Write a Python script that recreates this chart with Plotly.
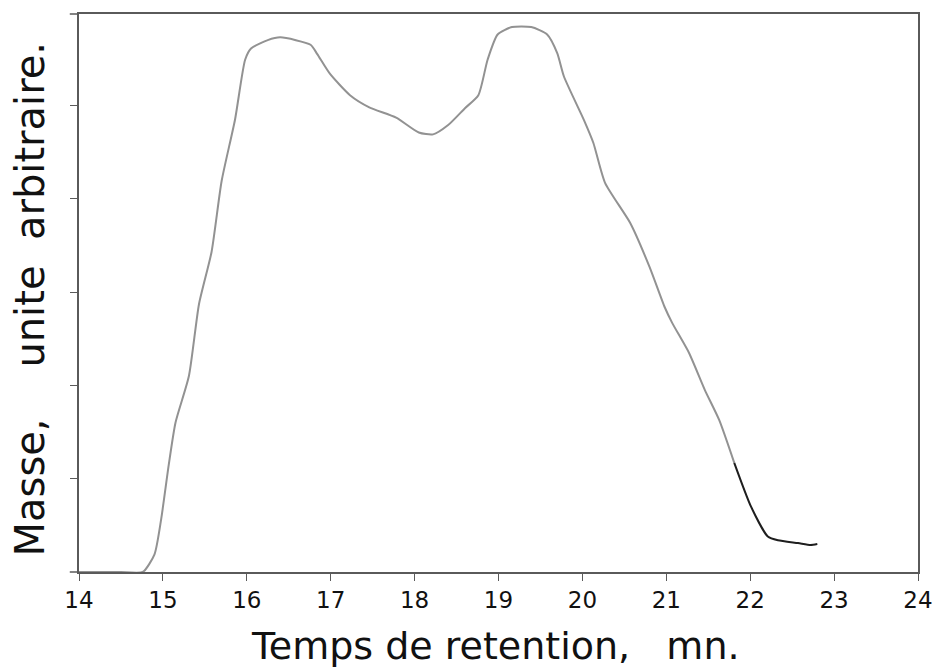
import plotly.graph_objects as go

# Retention time (min) and mass (arbitrary units)
temps = [14.0, 14.3, 14.5, 14.76, 14.90, 14.98, 15.07, 15.15, 15.31, 15.43, 15.58,
         15.70, 15.86, 15.98, 16.05, 16.25, 16.40, 16.76, 16.84, 16.99, 17.23,
         17.46, 17.78, 18.05, 18.22, 18.40, 18.60, 18.76, 18.87, 18.99, 19.16,
         19.39, 19.58, 19.70, 19.78, 20.02, 20.13, 20.27, 20.57, 20.80, 20.98,
         21.07, 21.27, 21.46, 21.63, 21.81, 22.01, 22.21, 22.33, 22.57, 22.72, 22.80]
masse = [0.0, 0.0, 0.0, 0.0, 0.19, 0.57, 1.15, 1.60, 2.10, 2.87, 3.43,
         4.19, 4.85, 5.49, 5.61, 5.70, 5.73, 5.65, 5.55, 5.34, 5.11,
         4.98, 4.87, 4.71, 4.69, 4.79, 4.97, 5.11, 5.49, 5.76, 5.84,
         5.84, 5.76, 5.56, 5.31, 4.84, 4.60, 4.17, 3.74, 3.27, 2.84,
         2.67, 2.35, 1.95, 1.63, 1.17, 0.70, 0.38, 0.34, 0.31, 0.29, 0.30]

x_ticks = [14, 15, 16, 17, 18, 19, 20, 21, 22, 23, 24]
y_ticks = [1, 2, 3, 4, 5]

NB = "\u00a0"
x_title = "Temps de retention," + NB * 3 + "mn."
y_title = "Masse," + NB * 4 + "unite" + NB * 2 + "arbitraire."

tail_start = 45  # darker tail of the trace

fig = go.Figure()
fig.add_trace(go.Scatter(x=temps[:tail_start + 1], y=masse[:tail_start + 1], mode="lines",
                         line=dict(color="#929292", width=2, shape="spline", smoothing=0.6),
                         showlegend=False))
fig.add_trace(go.Scatter(x=temps[tail_start:], y=masse[tail_start:], mode="lines",
                         line=dict(color="#1e1e1e", width=2, shape="spline", smoothing=0.6),
                         showlegend=False))

axis_col = "#5a5a5a"
fig.update_layout(
    width=945, height=670,
    margin=dict(l=79, r=17, t=14, b=98),
    paper_bgcolor="white", plot_bgcolor="white",
    font=dict(family="DejaVu Sans", color="black"),
    xaxis=dict(range=[14, 24], tickvals=x_ticks, ticktext=[str(v) for v in x_ticks],
               showgrid=False, zeroline=False, showline=True, linecolor=axis_col,
               linewidth=1.5, mirror=True, ticks="outside", ticklen=7,
               tickcolor=axis_col, tickwidth=1.2,
               tickfont=dict(family="DejaVu Sans", size=23, color="#111111")),
    yaxis=dict(range=[0, 5.98], tickvals=y_ticks, showticklabels=False,
               showgrid=False, zeroline=False, showline=True, linecolor=axis_col,
               linewidth=1.5, mirror=True, ticks="outside", ticklen=7,
               tickcolor=axis_col, tickwidth=1.2),
    annotations=[
        dict(text=x_title, xref="paper", yref="paper", x=0.497, y=-0.133,
             xanchor="center", yanchor="middle", showarrow=False,
             font=dict(family="DejaVu Sans", size=38, color="#111111")),
        dict(text=y_title, xref="paper", yref="paper", x=-0.058, y=0.489,
             xanchor="center", yanchor="middle", textangle=-90, showarrow=False,
             font=dict(family="DejaVu Sans", size=40, color="#111111")),
    ],
    shapes=[
        dict(type="line", xref="paper", yref="paper", x0=-0.011, x1=0, y0=0, y1=0,
             line=dict(color=axis_col, width=1.5)),
        dict(type="line", xref="paper", yref="paper", x0=-0.011, x1=0, y0=1, y1=1,
             line=dict(color=axis_col, width=1.5)),
    ],
)

fig.write_html("out.html")
